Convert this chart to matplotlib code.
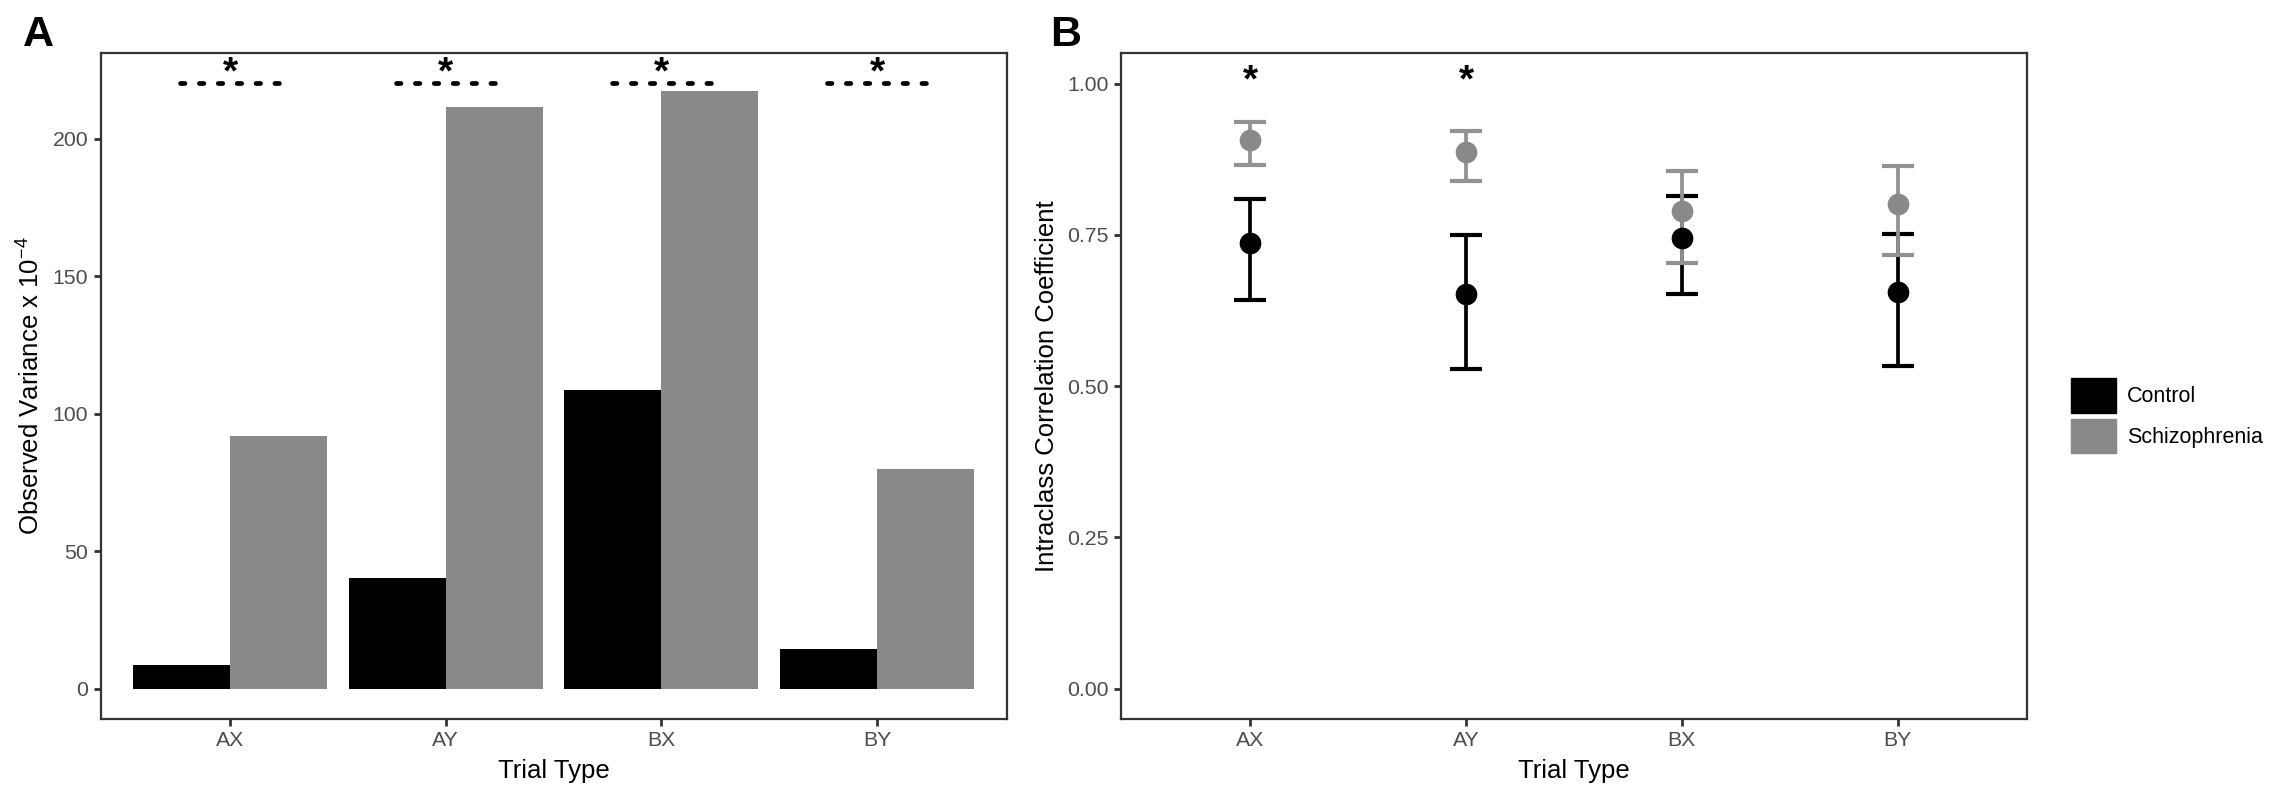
import numpy as np
import matplotlib
matplotlib.use('Agg')
import matplotlib.pyplot as plt
from matplotlib.patches import Patch

# данные
trial_types = ['AX', 'AY', 'BX', 'BY']
groups = ['Control', 'Schizophrenia']

# панель A: наблюдаемая дисперсия x 10^-4
var_control = [8.5, 40.3, 108.5, 14.4]
var_schizo = [91.8, 211.5, 217.3, 79.9]
sig_a = ['*', '*', '*', '*']
sig_a_line = 220.1
sig_a_star = 220.0

# панель B: ICC с доверительными интервалами
icc_control = [0.736, 0.653, 0.745, 0.656]
icc_control_lo = [0.642, 0.529, 0.652, 0.533]
icc_control_hi = [0.810, 0.750, 0.815, 0.752]
icc_schizo = [0.906, 0.887, 0.790, 0.801]
icc_schizo_lo = [0.865, 0.839, 0.703, 0.717]
icc_schizo_hi = [0.936, 0.922, 0.856, 0.863]
sig_b = ['*', '*', '', '']
sig_b_star = 0.987

col_control = '#000000'
col_schizo = '#898989'
col_schizo_b = '#929292'

plt.rcParams['font.family'] = ['Liberation Sans', 'DejaVu Sans']
plt.rcParams['mathtext.default'] = 'regular'

W, H = 2270, 797
fig = plt.figure(figsize=(W / 100, H / 100), dpi=100)

ax_a = fig.add_axes([100.7 / W, 1 - 719 / H, (1006.5 - 100.7) / W, (719 - 53.3) / H])
ax_b = fig.add_axes([1121 / W, 1 - 719 / H, (2027 - 1121) / W, (719 - 53.3) / H])

x = np.arange(len(trial_types))


def style_axes(ax):
    for s in ax.spines.values():
        s.set_color('#333333')
        s.set_linewidth(1.6)
    ax.tick_params(length=5, width=2.0, color='#333333', labelcolor='#4d4d4d',
                   labelsize=15.3, pad=4)
    ax.set_xticks(x)
    ax.set_xticklabels(trial_types)
    ax.set_xlim(-0.6, 3.6)
    ax.set_xlabel('Trial Type', fontsize=18.5, labelpad=6)


# --- панель A ---
ax_a.bar(x - 0.225, var_control, width=0.45, color=col_control)
ax_a.bar(x + 0.225, var_schizo, width=0.45, color=col_schizo)
for i, s in enumerate(sig_a):
    if s:
        ax_a.plot([x[i] - 0.23, x[i] + 0.23], [sig_a_line, sig_a_line], color='black',
                  lw=3.4, linestyle=(0, (0.95, 3.05)), dash_capstyle='round')
        ax_a.text(x[i], sig_a_star, s, ha='center', va='baseline', fontsize=28,
                  fontweight='bold')
ax_a.set_ylim(-11, 231)
ax_a.set_yticks([0, 50, 100, 150, 200])
style_axes(ax_a)
ax_a.set_ylabel(r'Observed Variance x 10$^{-4}$', fontsize=18.5, labelpad=6)

# --- панель B ---
ic = np.array(icc_control)
isz = np.array(icc_schizo)
ax_b.errorbar(x, ic, yerr=[ic - np.array(icc_control_lo), np.array(icc_control_hi) - ic],
              fmt='none', ecolor=col_control, elinewidth=2.7, capsize=11.5, capthick=3.0)
ax_b.errorbar(x, isz, yerr=[isz - np.array(icc_schizo_lo), np.array(icc_schizo_hi) - isz],
              fmt='none', ecolor=col_schizo_b, elinewidth=2.7, capsize=11.5, capthick=3.0)
ax_b.plot(x, ic, 'o', color=col_control, ms=14.6)
ax_b.plot(x, isz, 'o', color=col_schizo, ms=14.6)
for i, s in enumerate(sig_b):
    if s:
        ax_b.text(x[i], sig_b_star, s, ha='center', va='baseline', fontsize=28,
                  fontweight='bold')
ax_b.set_ylim(-0.05, 1.05)
ax_b.set_yticks([0, 0.25, 0.5, 0.75, 1.0])
ax_b.set_yticklabels(['%.2f' % v for v in [0, 0.25, 0.5, 0.75, 1.0]])
style_axes(ax_b)
ax_b.set_ylabel('Intraclass Correlation Coefficient', fontsize=18.5, labelpad=6)

# легенда
handles = [Patch(color=col_control), Patch(color=col_schizo)]
fig.legend(handles, groups, loc='upper left', bbox_to_anchor=(2071 / W, 1 - 378 / H),
           bbox_transform=fig.transFigure, frameon=False, fontsize=15.5,
           handlelength=2.1, handleheight=2.1, labelspacing=0.28,
           handletextpad=0.5, borderpad=0, borderaxespad=0)

# буквы панелей
fig.text(23 / W, 1 - 46 / H, 'A', fontsize=31, fontweight='bold', va='baseline')
fig.text(1050 / W, 1 - 46 / H, 'B', fontsize=31, fontweight='bold', va='baseline')

fig.savefig('out.png', dpi=100)
